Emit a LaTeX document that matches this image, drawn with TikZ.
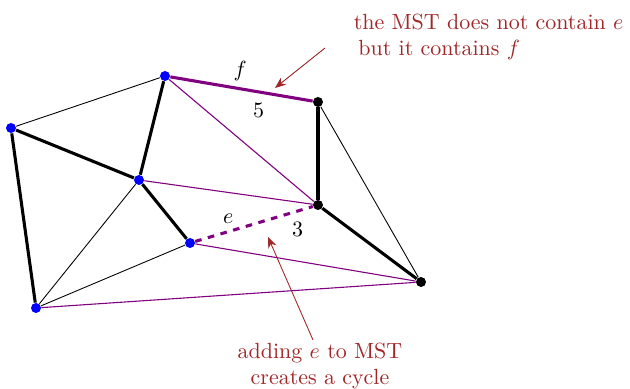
\documentclass[tikz,border=0pt]{standalone}
\usepackage{xcolor}
\usetikzlibrary{arrows.meta}
\definecolor{notecolor}{RGB}{160,38,40}
\begin{document}
\begin{tikzpicture}[x=0.016cm,y=-0.016cm,
    bluevertex/.style={circle,fill=blue,inner sep=0pt,minimum size=0.16cm},
    blackvertex/.style={circle,fill=black,inner sep=0pt,minimum size=0.16cm},
    treeedge/.style={line width=1.4pt},
    otheredge/.style={line width=0.4pt},
    cutedge/.style={violet,line width=0.5pt},
    note/.style={notecolor,align=center}]
    \useasboundingbox (0,0) rectangle (630,389);
    % vertices
    \node[bluevertex] (a) at (11,128) {};
    \node[bluevertex] (b) at (165,76) {};
    \node[bluevertex] (c) at (139,180) {};
    \node[bluevertex] (d) at (190,243) {};
    \node[bluevertex] (e) at (36,308) {};
    \node[blackvertex] (f) at (318,102) {};
    \node[blackvertex] (g) at (318,205) {};
    \node[blackvertex] (h) at (421,282) {};
    % edges
    \draw[otheredge] (a) -- (b);
    \draw[otheredge] (c) -- (e);
    \draw[otheredge] (d) -- (e);
    \draw[otheredge] (f) -- (h);
    \draw[cutedge] (b) -- (g);
    \draw[cutedge] (c) -- (g);
    \draw[cutedge] (d) -- (h);
    \draw[cutedge] (e) -- (h);
    \draw[treeedge] (a) -- (c);
    \draw[treeedge] (a) -- (e);
    \draw[treeedge] (b) -- (c);
    \draw[treeedge] (c) -- (d);
    \draw[treeedge] (f) -- (g);
    \draw[treeedge] (g) -- (h);
    \draw[treeedge,violet] (b) -- node[pos=0.49,above=-0.5pt,black] {$f$} node[pos=0.62,below=1pt,black] {$5$} (f);
    \draw[treeedge,violet,dashed] (d) -- node[pos=0.28,above=-0.5pt,black] {$e$} node[pos=0.87,below=1pt,black] {$3$} (g);
    % notes
    \node[notecolor,align=left,anchor=north west] (top) at (346,6) {the MST does not contain $e$\\\hspace{0.5ex}but it contains $f$};
    \node[note,anchor=north] (bottom) at (320,335) {adding $e$ to MST\\creates a cycle};
    \coordinate (topstart) at (325,48);
    \coordinate (toptip) at (275,88);
    \coordinate (bottomstart) at (313,340);
    \coordinate (bottomtip) at (268,237);
    \draw[-{Stealth[length=5pt,width=4pt]},notecolor] (topstart) -- (toptip);
    \draw[-{Stealth[length=5pt,width=4pt]},notecolor] (bottomstart) -- (bottomtip);
\end{tikzpicture}
\end{document}
